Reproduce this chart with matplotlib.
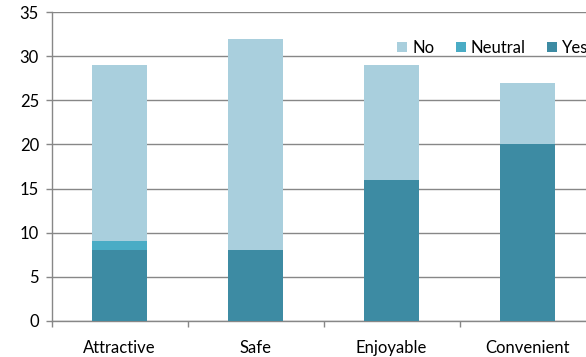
import numpy as np
import matplotlib
matplotlib.use('Agg')
import matplotlib.pyplot as plt

plt.rcParams['font.family'] = ['Lato', 'DejaVu Sans']

categories = ['Attractive', 'Safe', 'Enjoyable', 'Convenient']
yes = [8, 8, 16, 20]
neutral = [1, 0, 0, 0]
no = [20, 24, 13, 7]

c_yes = '#3d8ba3'
c_neutral = '#4aacc5'
c_no = '#a9cfdd'
grid_c = '#878787'

fig = plt.figure(figsize=(5.86, 3.57), dpi=100)
# plot area runs a little past the right edge of the figure
ax = fig.add_axes([51.5 / 586, 36.3 / 357, 544 / 586, 308.4 / 357])

x = np.arange(len(categories))
w = 0.405
yes = np.array(yes)
neutral = np.array(neutral)
no = np.array(no)
ax.bar(x, yes, w, color=c_yes, label='Yes', zorder=3)
ax.bar(x, neutral, w, bottom=yes, color=c_neutral, label='Neutral', zorder=3)
ax.bar(x, no, w, bottom=yes + neutral, color=c_no, label='No', zorder=3)

ax.set_ylim(0, 35)
ax.set_yticks(range(0, 36, 5))
ax.set_xlim(-0.5, 3.5)
ax.set_xticks(x)
ax.set_xticklabels(categories)
ax.set_xticks(np.arange(-0.5, 4, 1), minor=True)
ax.yaxis.grid(True, color=grid_c, linewidth=1, zorder=0)
ax.set_axisbelow(True)

for s in ['top', 'right']:
    ax.spines[s].set_visible(False)
for s in ['left', 'bottom']:
    ax.spines[s].set_color(grid_c)
    ax.spines[s].set_linewidth(1)

ax.tick_params(axis='x', which='major', length=0, pad=14, labelsize=12)
ax.tick_params(axis='x', which='minor', length=4, color=grid_c, width=1)
ax.tick_params(axis='y', length=4, color=grid_c, width=1, labelsize=12, pad=5)

h, l = ax.get_legend_handles_labels()
fig.legend(h[::-1], l[::-1], ncol=3, frameon=False, fontsize=12,
           loc='center left', bbox_to_anchor=(397 / 586, 309 / 357),
           handlelength=0.6, handleheight=0.6, handletextpad=0.3,
           columnspacing=1.3, borderaxespad=0, borderpad=0)

fig.savefig('out.png', dpi=100)
